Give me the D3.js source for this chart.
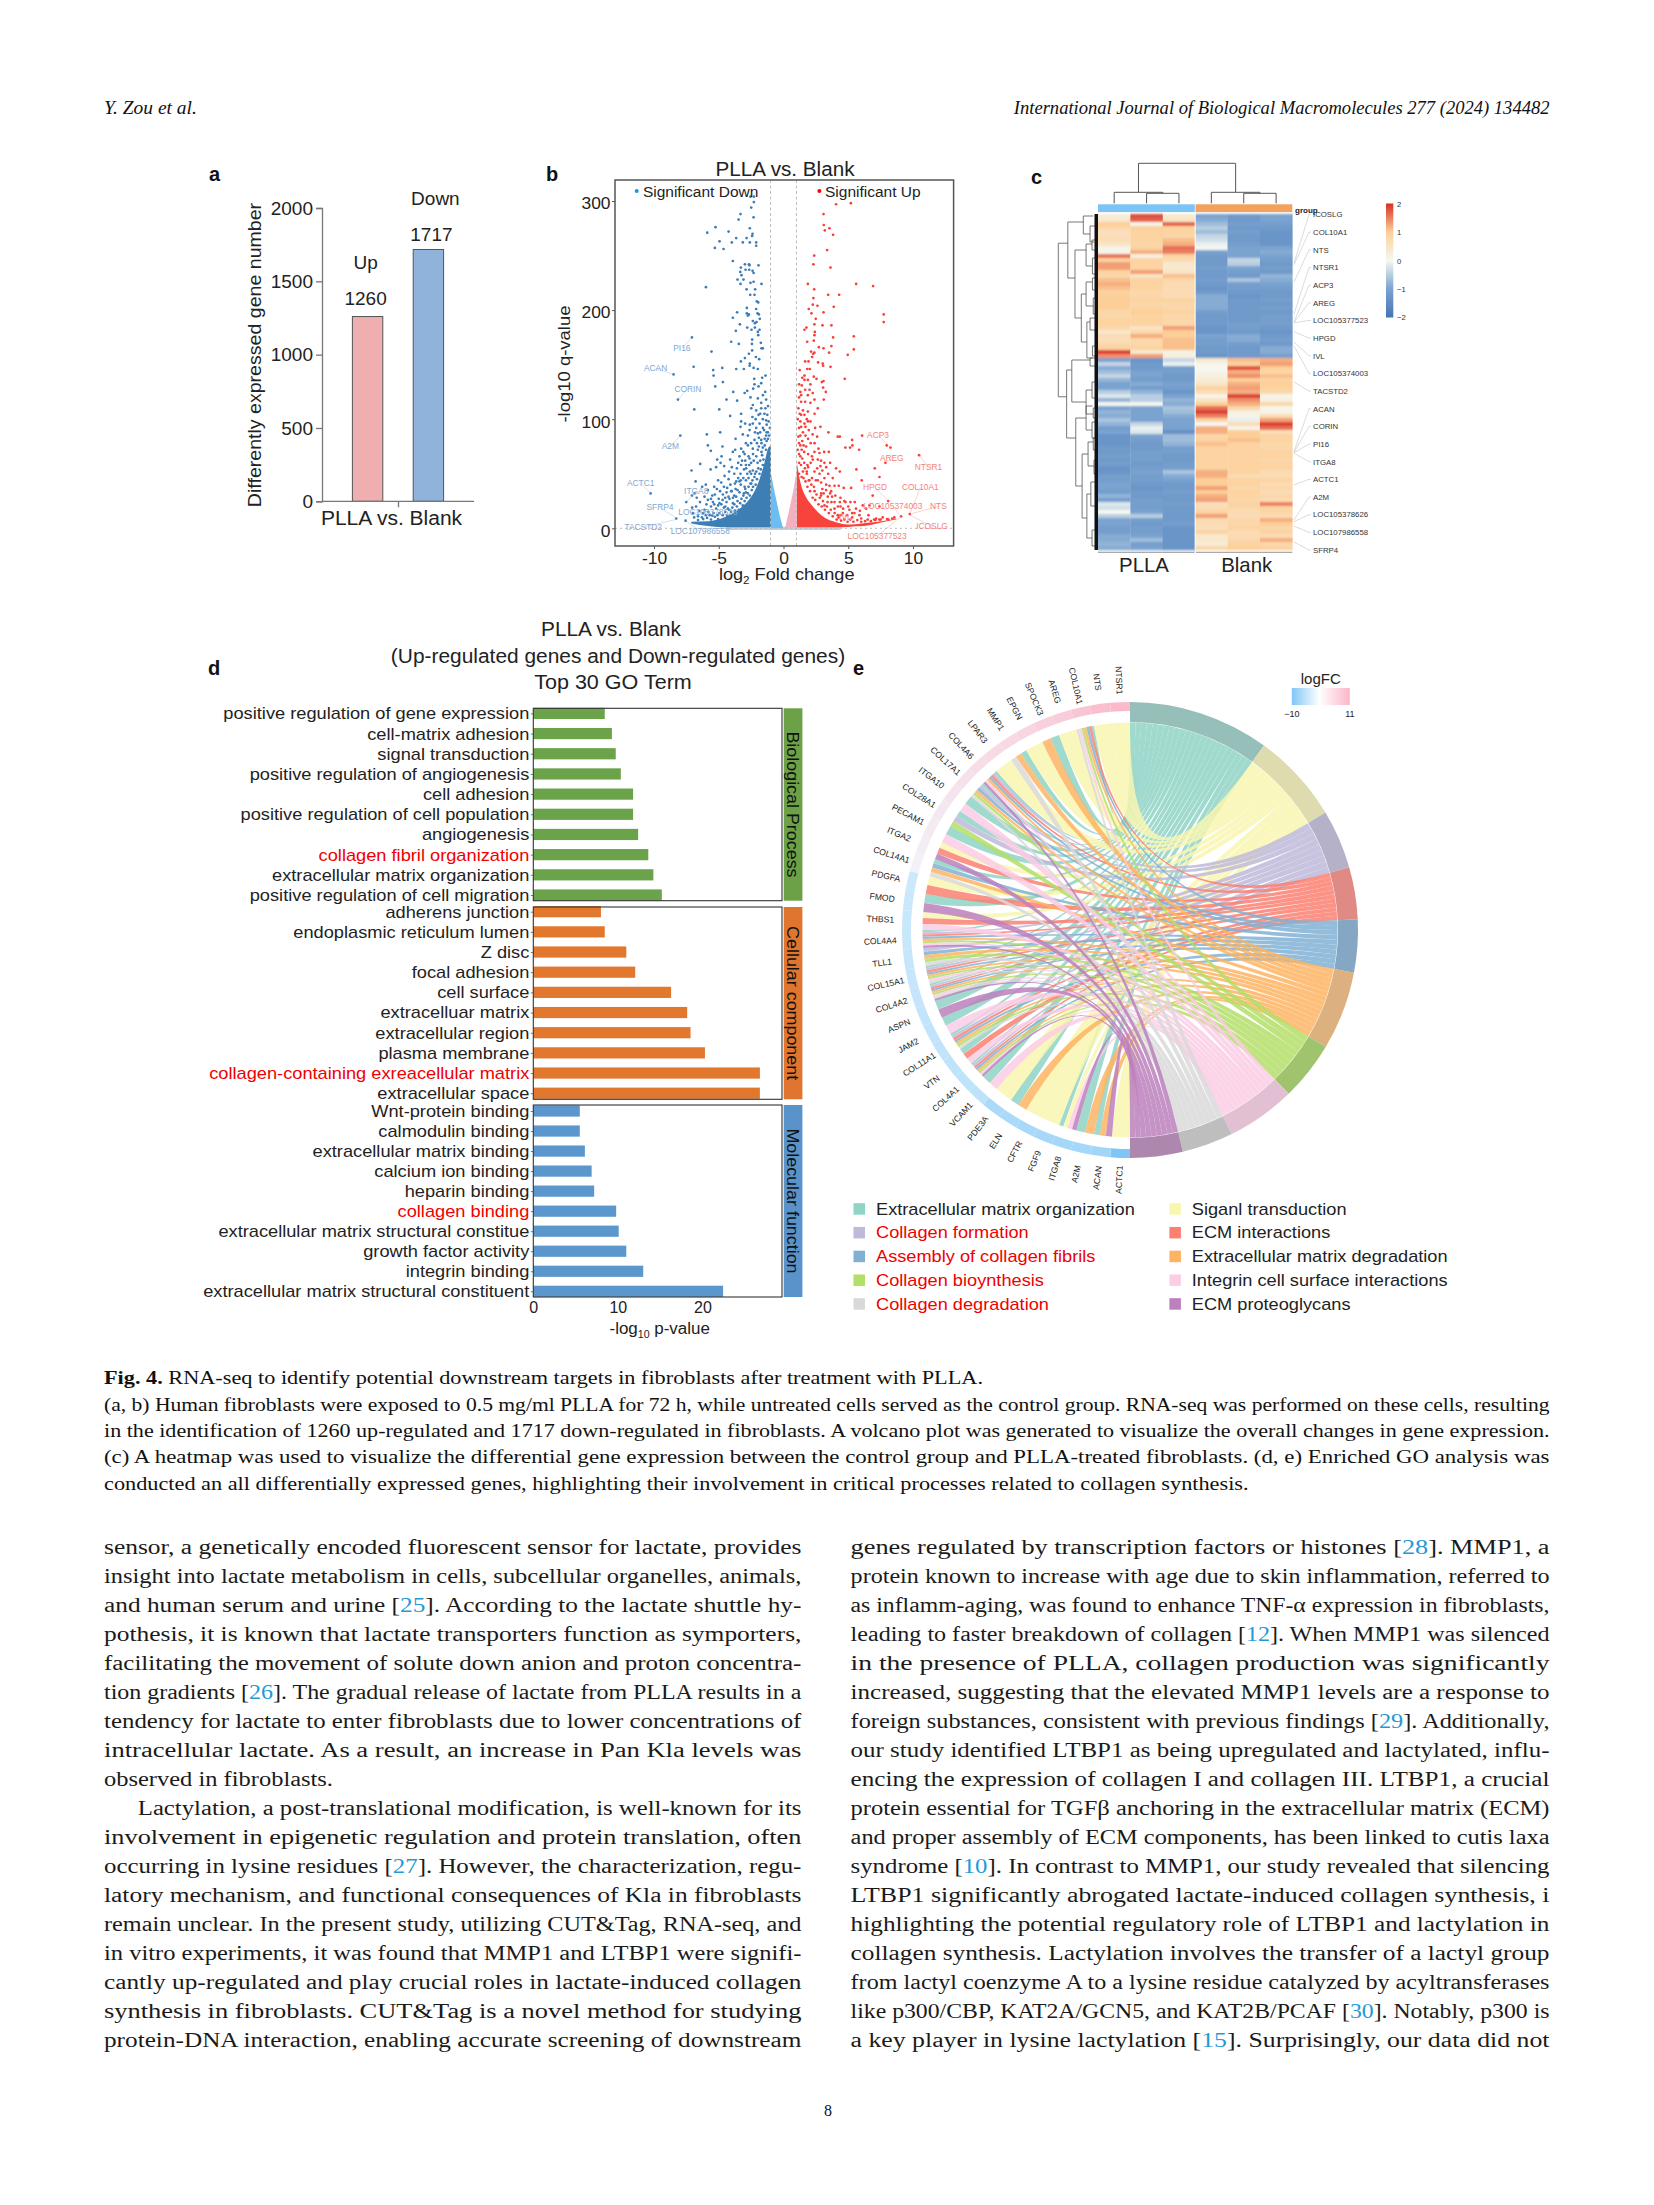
<!DOCTYPE html>
<html><head><meta charset="utf-8">
<script src="https://cdn.jsdelivr.net/npm/d3@7"></script>
<style>html,body{margin:0;padding:0;background:#fff}svg{display:block}</style>
</head><body>
<script>
// ---------- panel a ----------
const degGroups=["Up","Down"];
const degCounts=[1260,1717];
const degTicks=[0,500,1000,1500,2000];
// ---------- panel b ----------
const volcanoDown=[[-2.29,304],[-2.55,304],[-2.29,299],[-2.49,294],[-3.32,288],[-2.31,285],[-3.47,283],[-5.25,276],[-2.6,275],[-4.24,272],[-5.89,271],[-2.39,270],[-2.42,268],[-3.65,266],[-2.85,266],[-4.94,263],[-3.99,262],[-3.14,262],[-2.6,262],[-2.11,262],[-2.11,259],[-5.3,257],[-4.63,256],[-3.91,245],[-2.98,242],[-2.67,242],[-2.62,241],[-1.93,241],[-3.29,239],[-2.93,237],[-2.65,237],[-3.34,235],[-2.39,236],[-2.31,234],[-3.24,232],[-3.55,228],[-3.09,228],[-2.55,225],[-2.31,226],[-1.7,224],[-3.32,224],[-5.99,221],[-2.85,219],[-2.19,219],[-2.57,214],[-2.24,214],[-2.06,208],[-1.95,207],[-2.83,202],[-2.11,201],[-3.58,198],[-2.83,197],[-2,197],[-2.67,196],[-2.75,195],[-1.9,196],[-1.83,192],[-3.91,193],[-2.37,190],[-2.08,189],[-2.21,188],[-3.37,187],[-2.8,184],[-2.21,184],[-1.85,182],[-3.68,181],[-2.47,182],[-1.98,180],[-1.95,177],[-7.07,175],[-2.42,173],[-2.44,169],[-4.04,171],[-3.45,169],[-1.75,170],[-1.7,165],[-1.6,165],[-5.56,162],[-2.42,163],[-2.67,160],[-2.13,157],[-1.88,155],[-2.98,156],[-3.29,153],[-2.6,151],
[-6.94,148],[-8.49,141],[-5.43,145],[-5.4,140],[-4.73,147],[-3.65,146],[-3.06,146],[-2.62,149],[-2.31,147],[-1.98,146],[-1.39,140],[-2.26,137],[-1.65,138],[-4.68,134],[-5.27,130],[-1.72,133],[-2.24,132],[-1.93,130],[-8.15,118],[-3.88,125],[-2.8,126],[-3,124],[-2.34,128],[-1.41,125],[-1.59,122],[-4.4,118],[-3.58,117],[-2.55,120],[-1.98,119],[-2.37,113],[-1.72,115],[-1.34,118],[-6.89,109],[-4.96,109],[-3.27,105],[-4.12,103],[-2.49,110],[-2.11,108],[-1.72,110],[-1.93,104],[-1.47,105],[-3.27,98],[-2.96,96],[-1.34,99],[-2.37,96],[-1.85,96],[-3.32,93],[-7.97,85],[-5.92,86],[-4.89,88],[-2.11,92],[-2.62,90],[-1.59,92],[-3.7,82],[-3.14,86],[-2.75,85],[-1.98,87],[-1.34,85],[-5.84,76],[-4.71,75],[-5.61,71],[-3.73,72],[-3.91,70],[-2.75,76],[-3.27,73],[-2.24,81],[-1.72,81],[-2.37,73],[-1.98,72],[-4.78,66],[-4.12,63],[-5.12,63],[-6.43,59],[-4.86,60],[-5.2,56],[-4.58,57],[-5.63,54],[-3.99,56],[-7.1,53],[-3.27,58],[-2.62,64],[-2.88,55],[-3.32,50],[-2.37,53],[-6.79,43],[-4.24,45],[-4.81,42],[-6,40],[-6.28,38],[-3.65,43],[-3.4,43],[-2.49,41],[-10.26,32],[-5.14,36],[-5.84,35],[-4.35,37],[-4.04,34],[-6.87,32],[-7.07,30],[-7.51,24],[-5.5,30],[-6.1,29],[-4.68,31],[-5.84,26],[-5.45,24],[-4.94,23],[-4.17,27],[-3.65,29],[-3.06,32],[-8.28,9],[-7.56,7],[-7,14],[-6.1,17],
[-3.5,60],[-3.2,62],[-3,68],[-2.9,58],[-2.7,66],[-2.5,60],[-2.6,52],[-2.3,62],[-2.1,66],[-2,60],[-1.9,75],[-1.7,70],[-1.6,74],[-1.5,90],[-1.45,82],[-1.3,95],[-1.2,88],[-1.25,104],[-1.2,112],[-1.4,110],[-1.6,100],[-1.8,105],[-2.15,100],[-2.4,102],[-2.6,95],[-2.2,88],[-1.9,83],[-2.5,78],[-2.9,78],[-3.1,70],[-3.4,66],[-3.8,50],[-3.5,46],[-3.1,46],[-2.9,44],[-3.3,40],[-3.7,36],[-4.1,40],[-4.4,33],[-4.6,38],[-4.9,34],[-5.3,31],[-5.6,20],[-5.2,18],[-4.7,26],[-4.4,24],[-3.9,28],[-6.2,14],[-5.8,15],[-5.4,14],[-6.6,11],[-6.9,10],[-6.3,10],[-2.7,46],[-2.5,50],[-2.2,50],[-3,38],[-3.4,33],[-3.8,30],[-4.3,18],[-4.6,19],[-5.1,12],[-5,27],[-3.9,23],[-2.9,33],
[-6.6,7.5],[-6.2,8.5],[-5.9,9.5],[-5.6,8],[-5.3,10.5],[-5.05,8.5],[-5.5,11.5],[-4.95,14],[-4.7,12],[-4.5,15],[-4.35,11.5],[-4.2,17],[-4.05,15],[-4.5,20],[-3.95,19],[-3.8,22],[-3.75,16],[-3.6,20],[-3.55,25],[-3.45,17],[-3.35,23],[-3.25,27],[-3.15,21],[-3.1,30],[-3,25],[-2.95,36],[-2.85,28],[-2.75,32],[-2.7,38],[-2.6,30],[-2.55,41],[-2.45,35],[-2.4,44],[-2.35,38],[-2.25,47],[-2.15,40],[-2.1,52],[-2.05,45],[-1.95,55],[-1.85,50],[-1.8,62],[-1.75,54],[-1.65,67],[-1.6,58],[-1.55,63],[-1.45,76],[-1.35,72],[-1.3,80],[-1.2,82],[-1.1,85],[-1.05,92],[-1.15,98],[-1.3,88],[-1.7,78],[-1.8,88],[-2.05,78],[-2.35,68],[-2.65,58],[-2.8,50],[-3.05,54],[-3.3,44],[-3.55,35],[-3.75,41],[-4,34],[-4.25,29],[-4.5,28],[-4.8,22],[-5.05,21],[-5.35,22],[-5.7,12],[-6,12],[-6.5,16],[-6.75,20],[-7.05,19],[-6.45,24],[-6.7,28],[-5.95,22],[-5.6,27],[-5.35,38],[-5.05,44],[-4.55,48],[-4.2,52],[-3.6,55],[-2.95,62]];
const volcanoUp=[[4.06,297],[5.2,298],[3.09,288],[3.11,278],[3.19,273],[3.55,275],[3.83,269],[3.37,255],[2.37,250],[2.31,242],[3.63,239],[1.88,224],[5.61,224],[6.92,222],[2.37,219],[3.45,214],[4.3,214],[2.31,211],[2.26,205],[2.62,204],[3.88,203],[1.95,201],[2.16,197],[3.09,198],[7.74,196],[2.49,192],[7.74,189],[2.39,187],[3.01,186],[3.7,186],[1.77,184],[1.62,182],[2.42,180],[2.39,177],[3.83,175],[5.43,176],[1.83,171],[2.34,172],[3.7,167],[2.73,166],[3.09,165],[5.43,164],[2.13,162],[2.39,161],[2.29,160],[3.52,161],[4.96,159],[2.21,157],[1.67,153],[1.93,153],[2.67,152],[3.03,151],
[1.83,146],[2.03,146],[3.06,149],[3.63,148],[4.73,137],[1.62,140],[1.62,136],[1.88,136],[2.34,139],[2.55,137],[3.09,135],[2.96,134],[1.41,131],[2.08,132],[1.67,127],[3.06,129],[3.27,125],[2.01,127],[1.88,122],[1.36,122],[2.26,124],[1.36,116],[1.67,116],[2.08,115],[2.39,118],[3.11,118],[1.88,107],[1.62,104],[2.65,110],[1.36,104],[1.88,98],[1.62,96],[2.08,98],[1.36,93],[2.44,92],[2.85,93],[3.47,88],[4.19,84],[4.35,84],[6.07,85],[5.3,81],[7.97,76],[8.26,74],[7.87,60],[10.47,67],[4.78,74],[5.14,74],[5.32,76],[5.84,72],[3.14,70],[3.5,70],[2.78,69],[2.39,70],[2.26,63],[2.65,63],[3.16,60],[3.6,60],[4.06,55],[4.35,52],[5.63,54],[7.05,55],[7.41,47],[6.04,44],[1.85,58],[2.39,52],[2.78,50],[3.16,46],[2.65,44],[3.55,39],[3.94,39],[4.27,39],[4.65,37],[5.22,37],[8.08,25],[6.89,30],[3.68,34],[3.29,35],[2.91,32],[3.42,29],[3.94,24],[5.17,24],[5.5,24],[4.78,24],[4.4,20],[3.94,18],[3.16,21],[5.09,17],[6.64,21],[7.41,20],[6.12,21],[6.38,18],[4.58,14],[4.19,12],[5.48,14],[5.86,12],[6.56,12],[7.15,9],[7.66,10],[8.56,10],[9.08,11],[9.75,13],
[1.2,92],[1.3,85],[1.5,88],[1.7,85],[1.9,82],[2.1,78],[2.4,78],[2.7,73],[1.2,78],[1.4,72],[1.6,70],[1.9,68],[2.2,66],[1.3,66],[1.6,60],[1.9,56],[2.1,60],[2.6,55],[3,53],[1.2,60],[1.5,52],[1.8,50],[2.2,46],[2.5,44],[2.9,42],[3.3,40],[3.6,32],[3,36],[1.2,50],[1.4,47],[2,44],[4,30],[4.4,28],[3.7,24],[4.2,20],[4.6,18],[5,20],[5.6,18],[5.9,16],[4.9,12],[5.3,10],[6,9],[6.5,8],[3.4,24],[2.9,30],[2.4,34],[4.4,12],[7,8],[7.5,8],[8,8.5],[8.4,9],[1.25,105],[1.15,110],[1.5,108],[1.8,100],[2.4,105],[1.3,125],[1.2,132],
[1.1,72],[1.2,68],[1.35,58],[1.45,64],[1.55,46],[1.65,55],[1.7,43],[1.8,52],[1.85,38],[1.95,44],[2.05,34],[2.15,40],[2.25,28],[2.35,38],[2.45,26],[2.55,31],[2.7,22],[2.8,28],[2.95,20],[3.05,25],[3.2,17],[3.35,20],[3.5,14],[3.65,17],[3.8,11],[3.95,14],[4.1,8],[4.25,10],[4.45,7],[4.7,8],[4.95,6],[5.15,8],[5.4,6],[5.7,7.5],[6,6],[6.3,6.5],[6.75,6.5],[7.1,7.5],[7.4,8],[8.1,8],[1.15,84],[1.3,76],[1.45,80],[1.75,75],[1.55,76],[1.3,98],[1.1,100],[1.7,93],[1.95,90],[2.25,86],[2.6,84],[2.9,62],[3.3,56],[2.85,57],[3.45,50],[3.8,46],[3.1,32],[3.75,29],[4.35,24],[4.7,25],[5.3,14],[1.25,145],[1.2,120],[1.45,138]];
// dense cores of the cloud, read as [x, top, bottom]
const denseDown=[[-7.12,6,4.5],[-5.84,6.5,2],[-4.81,9,1],[-4.04,13,1],[-3.27,19,1],[-2.75,25,1],[-2.24,34,1],[-1.85,45,1],[-1.47,60,1],[-1.16,74,1],[-0.97,76,1]];
const denseUp=[[1.03,60,1],[1.31,42,1],[1.67,30,1],[2.13,22,1],[2.65,15,1],[3.29,9,1],[3.94,6,1],[4.58,4,1],[5.22,3.5,1.5],[6.5,5,2.5],[7.8,7,6],[8.7,9,8]];
const wedgeDown=[[-1,52],[-0.7,34],[-0.3,12],[-0.03,0]];
const wedgeUp=[[1,52],[0.8,37],[0.46,18],[0.12,0]];
const nonSigBand=[-4.4,4.4];
const downLabels=[["PI16",-7.07,175,-7.85,165],["ACAN",-8.49,141,-9.88,146.5],["CORIN",-8.15,118,-7.38,127.8],["A2M",-7.97,85,-8.74,75],["ACTC1",-10.26,32,-11.03,41.5],["ITGA8",-7.51,24,-6.74,33.9],["SFRP4",-8.28,9.5,-9.54,18.9],["TACSTD2",-8.35,8,-10.83,1],["LOC105378626",-7,14,-5.84,15],["LOC107986558",-7.56,7,-6.43,-3]];
const upLabels=[["ACP3",8.26,74,7.3,85.4],["AREG",7.87,60,8.36,64],["NTSR1",10.47,67,11.2,56.4],["HPGD",8.08,25,7.07,37.5],["COL10A1",9.75,13,10.57,37.5],["LOC105374003",9.08,11,8.44,19.8],["NTS",9.75,13,11.96,20],["ICOSLG",9.8,12,11.47,1.5],["LOC105377523",9.08,11,7.23,-7.3],["IVL",4.6,13,4.78,10.3]];
// ---------- panel c ----------
const heatRows=[[.3,1.8,.4,-1,-1.2,-1],[.4,1.7,.5,-.9,-1.2,-1],[1,.1,1.7,-.7,-1.1,-1.1],[.8,1,.9,-.5,-1.2,-1.2],[.6,.9,.9,-.7,-1.1,-1.3],[.6,.9,.8,-.4,-1.2,-1.3],[.7,.9,1.1,-.3,-1.2,-1.3],[.5,.8,1.2,-.1,-1.1,-1.3],[.1,.9,1.6,0,-1,-1],[.1,1.2,1.5,-1,-1,-.9],[1.6,.2,.9,-1.2,-1,-1],[.9,.9,.7,-1.2,-.4,-1.1],[1.3,.9,.4,-1.2,-.5,-1.2],[1.3,.9,.4,-1.1,-1,-1.1],[.9,1.3,.5,-1.2,-1.1,-1.2],[.8,.5,1.1,-1.2,-1.2,-.8],[1.1,.9,.8,-1.1,-.6,-.9],[1.2,.9,.7,-1.2,-1.1,-1],[1.1,.9,.7,-1.3,-1.1,-1.1],[.9,.8,.7,-1.2,-1.2,-1.2],[1,.8,.7,-.9,-1.3,-1.2],[1,.9,.9,-.9,-1.2,-1.1],[1,.8,.8,-.9,-1.2,-1.2],[1,.9,.8,-.9,-1.2,-1.1],[.8,1,.9,-1.1,-1.2,-1.2],[.8,.9,.8,-1.2,-1.2,-1.1],[.9,.9,.8,-1.2,-1.2,-1.1],[.9,.9,.8,-1.2,-1.1,-1.1],[.8,.5,1.3,-1.3,-1.1,-1.2],[.4,.8,1,-1.3,-1.2,-1.3],[.7,1.2,1,-1,-.9,-1.2],[.6,.8,1.1,-1.1,-.9,-1.1],[.8,.8,1.1,-1.1,-1.1,-1.2],[.9,.9,1.1,-1.2,-1.2,-.9],[1.9,.4,.2,-1.2,-1.2,-.9],[1.4,1.3,.2,-1.3,-1.2,-1.1],
[-1,-1.3,-.4,.4,1.1,1.2],[-.4,-1.2,-.1,.1,.9,1.3],[-.9,-1.2,-1.1,0,1.8,1],[-.7,-1,-1.1,.1,1.2,.8],[-.4,-1,-1.2,.2,1.4,1.1],[-.8,-1.1,-1.2,.3,1,.9],[-1,-.9,-1,.5,1.2,1],[-1,-1.1,-1.1,.9,1.3,.9],[-.5,-.8,-1.3,.7,1.2,.8],[-.2,-.5,-1,.1,1.9,.1],[-.8,-.5,-.8,.5,1.4,.2],[0,0,-.9,1,1.2,.8],[-1,-1,-.6,1.6,.8,.1],[-.8,-1,-.7,1.9,.2,.1],[-.9,-1,-.9,1.5,.1,.7],[-.6,-1,-1,.9,-.1,1.3],[-.8,-.4,-1,0,.7,1.9],[-1.1,-.1,-1,1.2,.1,1.6],[-1,-.2,-1.4,1.2,1,.6],[-1.3,-1,-.7,.8,1,.9],[-1.3,-1.1,-.7,.9,1.1,.9],[-1.3,-1.2,-.8,1.1,.9,.8],[-1.2,-1.2,-1.1,.9,.9,.8],[-1.2,-1.1,-1.1,.9,.9,.9],[-1.1,-1.1,-1.2,.9,.9,.9],[-1.2,-1.1,-1.2,.9,.9,.8],[-1.1,-1.2,-1.1,.9,.9,.9],[-1.3,-1.1,-1.1,.9,.9,.9],[-1.3,-1,-.6,1.2,.9,.7],[-1.1,-1.1,-.9,1.2,.7,.7],[-1.1,-1.1,-1,1,.9,.9],[-1,-1.2,-1.2,1,.9,.7],[-1,-1.3,-1.2,1.3,.8,.8],[-1.1,-1.2,-1.1,1,.9,.7],[-.8,-1.2,-1.2,1.2,.9,.8],[-1.1,-1.1,-1.2,1.3,.8,.7],[-.2,-1.1,-1.1,.6,.9,1.5],[-.3,-1.1,-1.2,.7,.8,.9],[0,-1,-1.2,.9,.7,.8],[-.5,-.5,-1.2,1.3,.7,.7],[-1,-1.1,-1.2,.7,.8,1.2],[-1,-1.2,-1.1,.7,.8,1],[-1.1,-1.1,-1.3,.6,.9,.8],[-1.1,-1.1,-1.3,.9,.7,.9],[-.9,-1,-1.3,.4,.7,.7],[-.9,-.7,-1.3,.4,.8,1.2],[-.8,-1.1,-1.3,.3,.9,.8],[-.9,-1,-1.3,.8,1,.9]];
const heatGenes=["ICOSLG","COL10A1","NTS","NTSR1","ACP3","AREG","LOC105377523","HPGD","IVL","LOC105374003","TACSTD2","ACAN","CORIN","PI16","ITGA8","ACTC1","A2M","LOC105378626","LOC107986558","SFRP4"];
const heatGeneRows=[12.3,12.7,17,25,27,27.1,27.2,29.4,32,33,42,59.4,59.6,59.7,59.8,67.7,76.5,76.9,78,82];
const heatColorStops=[-2,-1,0,1,2];
const heatColorTicks=[2,1,0,-1,-2];
// brackets: [from, to, height, height of child at from, height of child at to]
const colDendro=[[.75,3.75,100,27.5,27.5],[0,1.5,27.5,0,25],[1,2,25,0,0],[3,4.5,27.5,0,25],[4,5,25,0,0]];
const rowDendro=[[7.3,45.7,100,76,79],[2,16,76,37,58],[.5,5,37,12,20],[3,7,20,8,9],[9,26,58,30,42],[7.5,13,30,15,14],[6.5,9,15,6,5],[11,15,14,6,7],[20,32,42,30,28],[17,23,30,14,12],[16,19,14,6,5],[21,25,12,5,6],[27,36,28,20,14],[26,29,20,8,7],[33,35.5,14,6,6],[39,56,79,66,56],[36.5,47,66,20,30],[36,38,20,6,6],[44,50,30,15,12],[42,46,15,6,6],[48.5,51,12,5,5],[51,68,56,30,40],[48,54,30,14,15],[52,56,15,6,6],[60,76,40,25,28],[57,63,25,12,10],[56,59,12,5,5],[61.5,65,10,4,5],[70,81,28,18,15],[67,73,18,7,6],[79,83,15,6,6]];
// ---------- panel d ----------
const bpTerms=["positive regulation of gene expression","cell-matrix adhesion","signal transduction","positive regulation of angiogenesis","cell adhesion","positive regulation of cell population","angiogenesis","collagen fibril organization","extracellular matrix organization","positive regulation of cell migration"];
const bpValues=[8.45,9.3,9.75,10.35,11.8,11.8,12.4,13.6,14.2,15.2];
const ccTerms=["adherens junction","endoplasmic reticulum lumen","Z disc","focal adhesion","cell surface","extracelluar matrix","extracellular region","plasma membrane","collagen-containing exreacellular matrix","extracellular space"];
const ccValues=[8,8.45,11,12.05,16.3,18.2,18.6,20.3,26.8,26.8];
const mfTerms=["Wnt-protein binding","calmodulin binding","extracellular matrix binding","calcium ion binding","heparin binding","collagen binding","extracellular matrix structural constitue","growth factor activity","integrin binding","extracellular matrix structural constituent"];
const mfValues=[5.5,5.5,6.1,6.9,7.2,9.8,10.1,11,13,22.45];
const goHighlighted=["collagen fibril organization","collagen-containing exreacellular matrix","collagen binding"];
const goTicks=[0,10,20];
// ---------- panel e ----------
const termKeys="ESCIADBNGP";
const termNames=["Extracellular matrix organization","Siganl transduction","Collagen formation","ECM interactions","Assembly of collagen fibrils","Extracellular matrix degradation","Collagen bioynthesis","Integrin cell surface interactions","Collagen degradation","ECM proteoglycans"];
const termShares=[36,23,15,13.3,13.5,20,15.1,17.6,13.1,13.4];
const termRed=["Collagen formation","Assembly of collagen fibrils","Collagen bioynthesis","Collagen degradation"];
const chordGenes=["ACTC1","ACAN","A2M","ITGA8","FGF9","CFTR","ELN","PDE3A","VCAM1","COL4A1","VTN","COL11A1","JAM2","ASPN","COL4A2","COL15A1","TLL1","COL4A4","THBS1","FMOD","PDGFA","COL14A1","ITGA2","PECAM1","COL28A1","ITGA10","COL17A1","COL4A6","LPAR3","MMP1","EPGN","SPOCK3","AREG","COL10A1","NTS","NTSR1"];
const geneLogFC=[-10,-7,-6.8,-6.7,-6.5,-6.4,-6.3,-6.2,-4.6,-4.5,-4.4,-4.3,-4.2,-4.1,-4,-3.9,-3.8,-3.7,-3.6,-3.5,-3.3,1.5,2,2.5,3,3.5,4,4.5,5,5.5,6,7,7.5,8.5,9.5,10.5];
const geneTerms=["S","PDE","DE","PNSE","S","S","DE","S","NE","PNBDAICE","NIE","GBDAICE","NE","PE","PGNBDAICE","GNBDAICE","GBDAC","PNBDAICE","NIS","PE","IS","GDAE","PIS","NE","BCE","NE","GBDCAE","PNDAICE","S","GDE","S","DE","S","GNBDAIE","S","S"];
// ---------- page text ----------
const headerLeft="Y. Zou et al.";
const headerRight="International Journal of Biological Macromolecules 277 (2024) 134482";
const captionLines=["RNA-seq to identify potential downstream targets in fibroblasts after treatment with PLLA.","(a, b) Human fibroblasts were exposed to 0.5 mg/ml PLLA for 72 h, while untreated cells served as the control group. RNA-seq was performed on these cells, resulting","in the identification of 1260 up-regulated and 1717 down-regulated in fibroblasts. A volcano plot was generated to visualize the overall changes in gene expression.","(c) A heatmap was used to visualize the differential gene expression between the control group and PLLA-treated fibroblasts. (d, e) Enriched GO analysis was","conducted an all differentially expressed genes, highlighting their involvement in critical processes related to collagen synthesis."];
const bodyLeft=["sensor, a genetically encoded fluorescent sensor for lactate, provides","insight into lactate metabolism in cells, subcellular organelles, animals,","and human serum and urine [25]. According to the lactate shuttle hy-","pothesis, it is known that lactate transporters function as symporters,","facilitating the movement of solute down anion and proton concentra-","tion gradients [26]. The gradual release of lactate from PLLA results in a","tendency for lactate to enter fibroblasts due to lower concentrations of","intracellular lactate. As a result, an increase in Pan Kla levels was","observed in fibroblasts.","Lactylation, a post-translational modification, is well-known for its","involvement in epigenetic regulation and protein translation, often","occurring in lysine residues [27]. However, the characterization, regu-","latory mechanism, and functional consequences of Kla in fibroblasts","remain unclear. In the present study, utilizing CUT&Tag, RNA-seq, and","in vitro experiments, it was found that MMP1 and LTBP1 were signifi-","cantly up-regulated and play crucial roles in lactate-induced collagen","synthesis in fibroblasts. CUT&Tag is a novel method for studying","protein-DNA interaction, enabling accurate screening of downstream"];
const bodyRight=["genes regulated by transcription factors or histones [28]. MMP1, a","protein known to increase with age due to skin inflammation, referred to","as inflamm-aging, was found to enhance TNF-α expression in fibroblasts,","leading to faster breakdown of collagen [12]. When MMP1 was silenced","in the presence of PLLA, collagen production was significantly","increased, suggesting that the elevated MMP1 levels are a response to","foreign substances, consistent with previous findings [29]. Additionally,","our study identified LTBP1 as being upregulated and lactylated, influ-","encing the expression of collagen I and collagen III. LTBP1, a crucial","protein essential for TGFβ anchoring in the extracellular matrix (ECM)","and proper assembly of ECM components, has been linked to cutis laxa","syndrome [10]. In contrast to MMP1, our study revealed that silencing","LTBP1 significantly abrogated lactate-induced collagen synthesis, i","highlighting the potential regulatory role of LTBP1 and lactylation in","collagen synthesis. Lactylation involves the transfer of a lactyl group","from lactyl coenzyme A to a lysine residue catalyzed by acyltransferases","like p300/CBP, KAT2A/GCN5, and KAT2B/PCAF [30]. Notably, p300 is","a key player in lysine lactylation [15]. Surprisingly, our data did not"];

// ======== drawing ========
const SANS='"Liberation Sans",Arial,sans-serif', SERIF='"Liberation Serif",serif';
const svg=d3.select("body").append("svg").attr("width",1654).attr("height",2205).attr("viewBox","0 0 1654 2205");
svg.append("rect").attr("width",1654).attr("height",2205).attr("fill","#fff");
const defs=svg.append("defs");
function txt(p,t,x,y,size,o={}){return p.append("text").attr("x",x).attr("y",y).attr("font-family",o.font||SANS).attr("font-size",size).attr("fill",o.fill||"#222").attr("text-anchor",o.anchor||"start").attr("font-weight",o.weight||null).attr("font-style",o.style||null).attr("transform",o.rot!=null?`rotate(${o.rot} ${x} ${y})`:null).text(t);}
function styleAxis(g,size,col,w){g.selectAll("text").attr("font-family",SANS).attr("font-size",size).attr("fill","#222");g.selectAll("path,line").attr("stroke",col).attr("stroke-width",w);}
function stretch(sel,k){sel.each(function(){const L=this.getComputedTextLength();d3.select(this).attr("textLength",L*k).attr("lengthAdjust","spacingAndGlyphs");});return sel;}
function fit(sel,w){sel.attr("textLength",w).attr("lengthAdjust","spacingAndGlyphs");return sel;}
[["a",209,181],["b",546,181],["c",1031,184],["d",208,675],["e",853,675]].forEach(d=>txt(svg,d[0],d[1],d[2],20,{weight:"bold",fill:"#111"}));

// ---- a ----
{const g=svg.append("g");
const y=d3.scaleLinear().domain([0,2000]).range([501.3,208]);
const x=d3.scaleBand().domain(degGroups).range([322,474]).padding(.5);
g.selectAll("rect").data(degGroups).join("rect").attr("x",d=>x(d)).attr("width",x.bandwidth()).attr("y",(d,i)=>y(degCounts[i])).attr("height",(d,i)=>y(0)-y(degCounts[i])).attr("fill",(d,i)=>i?"#8FB3DA":"#EFAEB0").attr("stroke","#555").attr("stroke-width",1);
const ya=g.append("g").attr("transform","translate(322,0)").call(d3.axisLeft(y).tickValues(degTicks).tickFormat(d3.format("d")).tickSize(6).tickPadding(3));styleAxis(ya,19,"#777",1.3);
const xs=d3.scalePoint().domain(["PLLA vs. Blank"]).range([398,398]);
const xa=g.append("g").attr("transform","translate(0,501.3)").call(d3.axisBottom(xs).tickSize(6).tickPadding(4));styleAxis(xa,20,"#777",1.3);xa.select("path").attr("d","M322,0H474");
xa.selectAll("text").attr("dx",-7);stretch(xa.selectAll("text"),1.05);
stretch(txt(g,"Differently expressed gene number",261,355,19,{anchor:"middle",rot:-90}),1.03);
degGroups.forEach((n,i)=>{const cx=x(n)+x.bandwidth()/2+(i?3:-2);txt(g,n,cx+(i?4:0),i?205:269,19,{anchor:"middle"});txt(g,degCounts[i],cx,i?241:305,19,{anchor:"middle"});});}

// ---- b ----
{const g=svg.append("g");
const x=d3.scaleLinear().domain([-10,10]).range([654,913]);
const y=d3.scaleLinear().domain([0,300]).range([528.3,201]);
g.append("clipPath").attr("id","vclip").append("rect").attr("x",615).attr("y",180).attr("width",338.6).attr("height",366);
const p=g.append("g").attr("clip-path","url(#vclip)");
p.append("line").attr("x1",x(nonSigBand[0])).attr("x2",x(nonSigBand[1])).attr("y1",y(0)).attr("y2",y(0)).attr("stroke","#C3CFDB").attr("stroke-width",3.2);
const wedge=(d,c)=>p.append("path").datum(d).attr("fill",c).attr("d",d3.area().x(e=>x(e[0])).y0(y(0)).y1(e=>y(e[1])));
wedge(wedgeDown,"#6BBDF2");wedge(wedgeUp,"#F4AFC0");
const dense=(d,c)=>p.append("path").datum(d).attr("fill",c).attr("d",d3.area().x(e=>x(e[0])).y0(e=>y(e[2])).y1(e=>y(e[1])).curve(d3.curveMonotoneX));
dense(denseDown,"#3D7FB5");dense(denseUp,"#F8433C");
[[volcanoDown,"#3B7DB8"],[volcanoUp,"#F8403A"]].forEach(([d,c])=>p.append("g").selectAll("circle").data(d).join("circle").attr("cx",e=>x(e[0])).attr("cy",e=>y(e[1])).attr("r",1.35).attr("fill",c));
[-1,1].forEach(v=>p.append("line").attr("x1",x(v)).attr("x2",x(v)).attr("y1",180).attr("y2",546).attr("stroke","#bbb").attr("stroke-width",1).attr("stroke-dasharray","3 2.5"));
p.append("line").attr("x1",615).attr("x2",953).attr("y1",y(0)).attr("y2",y(0)).attr("stroke","#bbb").attr("stroke-width",1).attr("stroke-dasharray","2 3");
[[downLabels,"#7FA8D0"],[upLabels,"#F57F7C"]].forEach(([d,c])=>d.forEach(l=>{
 const tx=x(l[3]),ty=y(l[4]);
 p.append("line").attr("x1",x(l[1])).attr("y1",y(l[2])).attr("x2",tx).attr("y2",ty).attr("stroke",c).attr("stroke-width",.5).attr("opacity",.7);
 txt(p,l[0],tx,ty+2.8,8.4,{anchor:"middle",fill:c});}));
g.append("rect").attr("x",615).attr("y",180).attr("width",338.6).attr("height",366).attr("fill","none").attr("stroke","#555").attr("stroke-width",1.5);
const ya=g.append("g").attr("transform","translate(615,0)").call(d3.axisLeft(y).tickValues([0,100,200,300]).tickSize(3).tickPadding(1.5));styleAxis(ya,17.4,"#555",1);ya.select("path").remove();ya.selectAll("text").attr("dy","0.45em");
const xa=g.append("g").attr("transform","translate(0,546)").call(d3.axisBottom(x).tickValues([-10,-5,0,5,10]).tickSize(3).tickPadding(3).tickFormat(d=>String(d)));styleAxis(xa,17.4,"#555",1);xa.select("path").remove();
stretch(txt(g,"PLLA vs. Blank",785,176,19.5,{anchor:"middle"}),1.06);
stretch(txt(g,"-log10 q-value",570,364,16.5,{anchor:"middle",rot:-90}),1.12);
const xt=txt(g,"log",786.7,580,16.5,{anchor:"middle"});xt.append("tspan").attr("font-size",10.5).attr("dy",4).text("2");xt.append("tspan").attr("dy",-4).text(" Fold change");stretch(xt,1.1);
g.append("circle").attr("cx",636.7).attr("cy",191).attr("r",2).attr("fill","#0E9BE0");g.append("circle").attr("cx",819.4).attr("cy",191).attr("r",2).attr("fill","#F00");
txt(g,"Significant Down",642.9,196.7,15.5);txt(g,"Significant Up",825,196.7,15.5);}

// ---- c ----
{const g=svg.append("g");
const color=d3.scaleLinear().domain(heatColorStops).range(["#4575B4","#7AA3D0","#F5F8F2","#FDCF98","#D73027"]);
const rows=d3.scaleBand().domain(d3.range(heatRows.length)).range([214,550]);
const cols=d3.scaleBand().domain(d3.range(6)).range([1098,1292.3]);
const f=defs.append("filter").attr("id","soft").attr("filterUnits","userSpaceOnUse").attr("x",1090).attr("y",205).attr("width",210).attr("height",350);
f.append("feGaussianBlur").attr("stdDeviation","0.3 0.8");
g.append("g").attr("filter","url(#soft)").selectAll("g.r").data(heatRows).join("g").attr("class","r").attr("transform",(d,i)=>`translate(0,${rows(i)})`).selectAll("rect").data(d=>d).join("rect").attr("x",(d,i)=>cols(i)).attr("width",cols.bandwidth()+.3).attr("height",rows.bandwidth()+.3).attr("fill",d=>color(d));
g.append("line").attr("x1",cols(3)).attr("x2",cols(3)).attr("y1",204).attr("y2",550).attr("stroke","#fff").attr("stroke-width",1);
g.append("rect").attr("x",cols(0)).attr("y",204.3).attr("width",cols.bandwidth()*3-.4).attr("height",7.8).attr("fill","#7CC4F5");
g.append("rect").attr("x",cols(3)+.4).attr("y",204.3).attr("width",cols.bandwidth()*3-.4).attr("height",7.8).attr("fill","#F2A25C");
txt(g,"group",1295,212.5,8,{weight:"bold"});
const cx=d3.scaleLinear().domain([0,5]).range([cols(0)+cols.bandwidth()/2,cols(5)+cols.bandwidth()/2]);
const cy=d3.scaleLinear().domain([0,100]).range([203.3,163.3]);
const dl=(x1,y1,x2,y2,w=1)=>g.append("line").attr("x1",x1).attr("y1",y1).attr("x2",x2).attr("y2",y2).attr("stroke","#555").attr("stroke-width",w);
colDendro.forEach(b=>{dl(cx(b[0]),cy(b[2]),cx(b[1]),cy(b[2]));dl(cx(b[0]),cy(b[2]),cx(b[0]),cy(b[3]));dl(cx(b[1]),cy(b[2]),cx(b[1]),cy(b[4]));});
const rx=d3.scaleLinear().domain([0,100]).range([1098,1058.3]);
const ry=d3.scaleLinear().domain([0,heatRows.length]).range([214,550]);
rowDendro.forEach(b=>{dl(rx(b[2]),ry(b[0]),rx(b[2]),ry(b[1]),.8);dl(rx(b[2]),ry(b[0]),rx(b[3]),ry(b[0]),.8);dl(rx(b[2]),ry(b[1]),rx(b[4]),ry(b[1]),.8);});
g.append("rect").attr("x",1094.5).attr("y",214).attr("width",3.5).attr("height",336).attr("fill","#111");
const ly=d3.scalePoint().domain(heatGenes).range([214.5,550]);
heatGenes.forEach((n,i)=>{txt(g,n,1313,ly(n)+2.8,7.8,{fill:"#333"});
 g.append("polyline").attr("points",[[1294,ry(heatGeneRows[i])],[1309,ly(n)],[1311,ly(n)]].join(" ")).attr("fill","none").attr("stroke","#ccc").attr("stroke-width",.7);});
[[1098,1194.5],[1196,1292.3]].forEach(r=>g.append("line").attr("x1",r[0]).attr("x2",r[1]).attr("y1",552.3).attr("y2",552.3).attr("stroke","#aaa").attr("stroke-width",1.2));
txt(g,"PLLA",1144,571.7,20.4,{anchor:"middle"});txt(g,"Blank",1246.7,571.7,20.4,{anchor:"middle"});
const grad=defs.append("linearGradient").attr("id","hgrad").attr("x1",0).attr("x2",0).attr("y1",1).attr("y2",0);
heatColorStops.forEach((v,i)=>grad.append("stop").attr("offset",i/4).attr("stop-color",color(v)));
g.append("rect").attr("x",1386).attr("y",203.5).attr("width",7.3).attr("height",114).attr("fill","url(#hgrad)");
const cb=d3.scaleLinear().domain([2,-2]).range([204,317.3]);
heatColorTicks.forEach(v=>txt(g,d3.format("d")(v).replace("-","−"),1397,cb(v)+3,7.7,{fill:"#333"}));}

// ---- d ----
{const g=svg.append("g");
const x=d3.scaleLinear().domain([0,20]).range([533.3,702.4]);
const facets=[{t:bpTerms,v:bpValues,c:"#6BA34A",s:"#6CA147",box:[708.3,900.7],r:[713.4,895],lab:"Biological Process"},{t:ccTerms,v:ccValues,c:"#E2772E",s:"#E0752F",box:[907,1099.3],r:[911.7,1093.2],lab:"Cellular component"},{t:mfTerms,v:mfValues,c:"#5B96CC",s:"#5A93C9",box:[1105,1297],r:[1111,1291.3],lab:"Molecular function"}];
facets.forEach(f=>{const y=d3.scalePoint().domain(f.t).range(f.r);
 g.append("g").selectAll("rect").data(f.t).join("rect").attr("x",x(0)).attr("y",d=>y(d)-5.6).attr("height",11.2).attr("width",(d,i)=>x(f.v[i])-x(0)).attr("fill",f.c);
 g.append("rect").attr("x",x(0)).attr("y",f.box[0]).attr("width",782-x(0)).attr("height",f.box[1]-f.box[0]).attr("fill","none").attr("stroke","#333").attr("stroke-width",1.1);
 const a=g.append("g").attr("transform",`translate(${x(0)},0)`).call(d3.axisLeft(y).tickSize(2.5).tickPadding(1.5));styleAxis(a,17,"#555",.8);a.select("path").remove();
 a.selectAll("text").attr("fill",d=>goHighlighted.includes(d)?"#F00000":"#222");stretch(a.selectAll("text"),1.072);
 g.append("rect").attr("x",783.7).attr("y",f.box[0]).attr("width",18.7).attr("height",f.box[1]-f.box[0]).attr("fill",f.s);
 stretch(txt(g,f.lab,787,(f.box[0]+f.box[1])/2,16,{anchor:"middle",rot:90,fill:"#111"}),1.118);});
const xa=g.append("g").attr("transform","translate(0,1297)").call(d3.axisBottom(x).tickValues(goTicks).tickSize(0).tickPadding(5));styleAxis(xa,16,"#555",.8);xa.select("path").remove();
const xt=txt(g,"-log",659.7,1334,16,{anchor:"middle"});xt.append("tspan").attr("font-size",10).attr("dy",3.5).text("10");xt.append("tspan").attr("dy",-3.5).text(" p-value");stretch(xt,1.06);
stretch(txt(g,"PLLA vs. Blank",611,636,20,{anchor:"middle"}),1.04);stretch(txt(g,"(Up-regulated genes and Down-regulated genes)",618,663,20,{anchor:"middle"}),1.045);stretch(txt(g,"Top 30 GO Term",613,689,20,{anchor:"middle"}),1.077);}

// ---- e ----
{const cx=1130,cy=930,Ro=228,Rm=208,Rg=219,R=207.5;
const g=svg.append("g").attr("transform",`translate(${cx},${cy})`);
const colors=["#8FD4C5","#F9F6B0","#BEBADA","#FB8072","#80B1D3","#FDB462","#B3DE69","#FCCDE5","#D9D9D9","#BC80BD"];
const ringColors=["#96BFBA","#DEDCAE","#B5B1C9","#E08A85","#85A7C3","#DCB07F","#A0C46D","#E2BFD2","#BEBEBE","#AD87AE"];
const angle=d3.scaleLinear().domain([0,d3.sum(termShares)]).range([0,Math.PI]);
const cum=d3.cumsum(termShares);
const tStart=termShares.map((d,i)=>angle(i?cum[i-1]:0)),tEnd=termShares.map((d,i)=>angle(cum[i]));
const gAngle=d3.scaleLinear().domain([0,chordGenes.length]).range([Math.PI,2*Math.PI]);
const logColor=d3.scaleLinear().domain([-10,0,11]).range(["#7FC6F6","#F2FAFE","#FBB6C8"]);
const links=[];
const gw=(gAngle(1)-gAngle(0));
const members=termKeys.split("").map(()=>[]);
geneTerms.forEach((s,i)=>{const ks=s.split("").sort((a,b)=>termKeys.indexOf(b)-termKeys.indexOf(a));
 ks.forEach((k,j)=>{const t=termKeys.indexOf(k);const w=gw/ks.length;const l={term:t,gene:i,target:{startAngle:gAngle(i)+j*w,endAngle:gAngle(i)+(j+1)*w,radius:R}};links.push(l);members[t].push(l);});});
members.forEach((m,t)=>{m.sort((a,b)=>b.gene-a.gene);const w=(tEnd[t]-tStart[t])/m.length;m.forEach((l,j)=>{l.source={startAngle:tStart[t]+j*w,endAngle:tStart[t]+(j+1)*w,radius:R};});});
links.sort((a,b)=>a.term-b.term);
g.append("g").selectAll("path").data(links).join("path").attr("d",d3.ribbon()).attr("fill",d=>colors[d.term]).attr("fill-opacity",.85);
g.append("g").selectAll("path").data(termShares).join("path").attr("d",(d,i)=>d3.arc()({innerRadius:Rm,outerRadius:Ro,startAngle:tStart[i],endAngle:tEnd[i]})).attr("fill",(d,i)=>ringColors[i]);
g.append("g").selectAll("path").data(chordGenes).join("path").attr("d",(d,i)=>d3.arc()({innerRadius:Rg,outerRadius:Ro,startAngle:gAngle(i),endAngle:gAngle(i+1)})).attr("fill",(d,i)=>logColor(geneLogFC[i]));
g.append("g").selectAll("text").data(chordGenes).join("text").attr("font-family",SANS).attr("font-size",8.6).attr("fill","#222").attr("text-anchor","middle").attr("dy","0.35em").attr("transform",(d,i)=>{const a=(gAngle(i)+gw/2)*180/Math.PI;return `rotate(${a}) translate(0,${-250}) rotate(90)`;}).text(d=>d);
const lg=defs.append("linearGradient").attr("id","fcgrad");
[-10,0,11].forEach(v=>lg.append("stop").attr("offset",(v+10)/21).attr("stop-color",v==0?"#FFFFFF":logColor(v)));
svg.append("rect").attr("x",1291.8).attr("y",688).attr("width",58).attr("height",17).attr("fill","url(#fcgrad)");
txt(svg,"logFC",1320.8,684,15,{anchor:"middle"});
txt(svg,"−10",1291.8,717,9,{anchor:"middle"});txt(svg,"11",1349.8,717,9,{anchor:"middle"});
const rowsY=d3.scalePoint().domain(d3.range(5)).range([1209,1304]);
const order=[0,2,4,6,8,1,3,5,7,9];
order.forEach((t,k)=>{const c=k<5?0:1,r=k%5;const sx=c?1169.4:853.5,tx=c?1191.8:876;
 svg.append("rect").attr("x",sx).attr("y",rowsY(r)-5.8).attr("width",11.5).attr("height",11.5).attr("fill",colors[t]);
 stretch(txt(svg,termNames[t],tx,rowsY(r)+5.6,17,{fill:termRed.includes(termNames[t])?"#F00000":"#222"}),1.07);});}

// ---- page text ----
fit(txt(svg,headerLeft,104,114,18.5,{font:SERIF,style:"italic",fill:"#111"}),92.8);
fit(txt(svg,headerRight,1549.5,114,18.5,{font:SERIF,style:"italic",anchor:"end",fill:"#111"}),535.7);
{const ys=[1383.5,1410.5,1436.5,1462.5,1489.5];
const t0=txt(svg,"Fig. 4.",104,ys[0],18.6,{font:SERIF,weight:"bold",fill:"#111"});
t0.append("tspan").attr("font-weight","normal").text(" "+captionLines[0]);fit(t0,879);
captionLines.slice(1).forEach((l,i)=>{fit(txt(svg,l,104,ys[i+1],18.6,{font:SERIF,fill:"#111"}),i==3?1144.6:1445.5);});}
function bodyLine(l,x,y,w){const t=svg.append("text").attr("x",x).attr("y",y).attr("font-family",SERIF).attr("font-size",20.5).attr("fill","#1a1a1a");
 l.split(/(\[\d+\])/).forEach(s=>{const m=s.match(/^\[(\d+)\]$/);if(m){t.append("tspan").text("[");t.append("tspan").attr("fill","#1F9AD6").text(m[1]);t.append("tspan").text("]");}else t.append("tspan").text(s);});
 fit(t,w);}
const lineY=d3.scaleLinear().domain([0,17]).range([1554,2047]);
bodyLeft.forEach((l,i)=>{const x=i==9?137.8:104;bodyLine(l,x,lineY(i),i==8?229:801.4-x);});
bodyRight.forEach((l,i)=>bodyLine(l,850.6,lineY(i),698.9));
txt(svg,"8",828,2116,16,{font:SERIF,anchor:"middle",fill:"#111"});
</script>
</body></html>
